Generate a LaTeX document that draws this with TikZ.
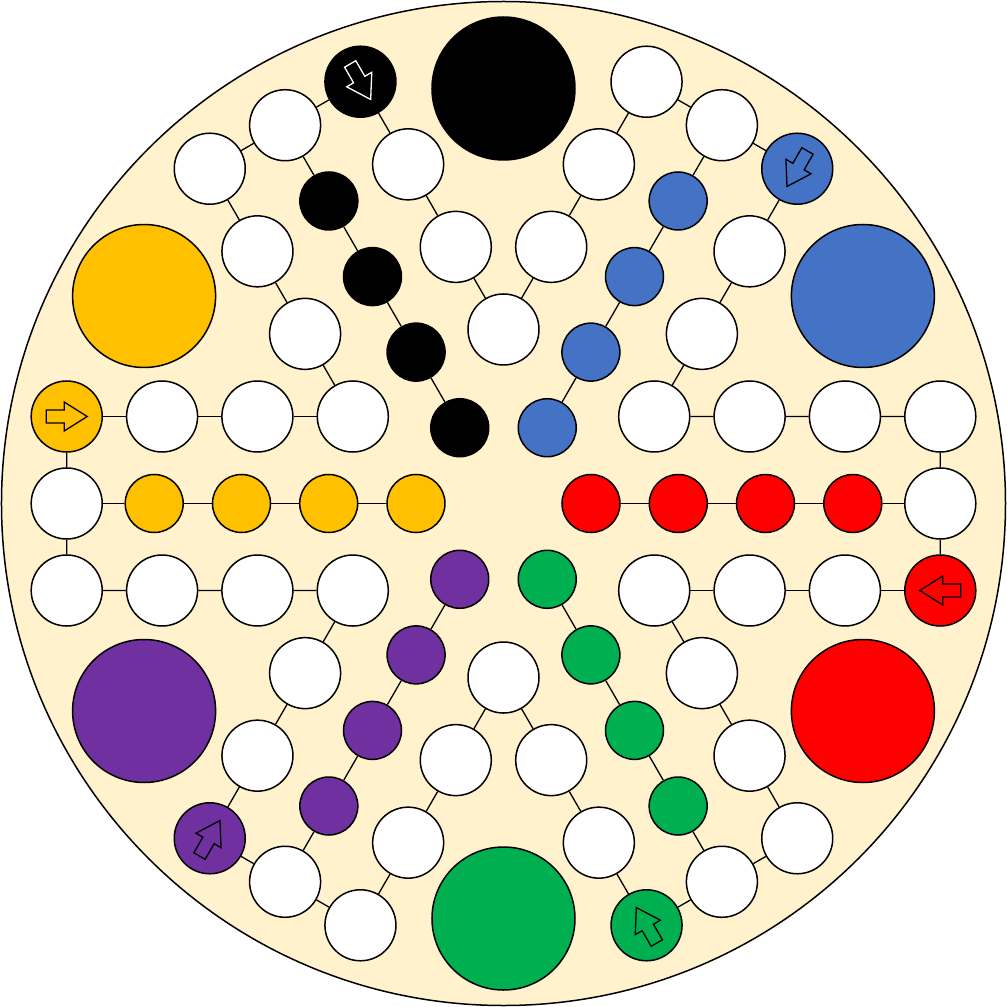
\documentclass[tikz,border=0pt]{standalone}
\definecolor{bg}{HTML}{FFF2CC}
\definecolor{cy}{HTML}{FFC000}
\definecolor{cb}{HTML}{4472C4}
\definecolor{cr}{HTML}{FF0000}
\definecolor{cg}{HTML}{00B050}
\definecolor{cp}{HTML}{7030A0}
\begin{document}
\begin{tikzpicture}[x=1pt,y=1pt,
  board/.style={draw=black,line width=1.5pt,fill=bg},
  track/.style={circle,draw=black,line width=1.5pt,fill=white,minimum size=71pt,inner sep=0pt},
  homespot/.style={circle,draw=black,line width=1.5pt,minimum size=58pt,inner sep=0pt},
  house/.style={circle,draw=black,line width=1.5pt,minimum size=143pt,inner sep=0pt},
  link/.style={draw=black,line width=1.3pt},
  startarrow/.style={line width=1.3pt,line join=miter}]
\useasboundingbox (-503.5,-503.5) rectangle (503.5,503.5);
\node[board,circle,minimum size=1004pt,inner sep=0pt] (boardc) at (0,0) {};
\foreach \k/\c/\ac in {0/cy/black,1/black/white,2/cb/black,3/cr/black,4/cg/black,5/cp/black}{
  \begin{scope}[rotate=-60*\k]
    \node[track,fill=\c] (s\k) at (-436.8,87) {};
    \node[track] (ta\k) at (-341.4,87) {};
    \node[track] (tb\k) at (-246.1,87) {};
    \node[track] (c\k) at (-150.7,87) {};
    \node[track] (e\k) at (-436.8,0) {};
    \node[track] (ba\k) at (-436.8,-87) {};
    \node[track] (bb\k) at (-341.4,-87) {};
    \node[track] (bc\k) at (-246.1,-87) {};
    \node[homespot,fill=\c] (ha\k) at (-349.3,0) {};
    \node[homespot,fill=\c] (hb\k) at (-262.0,0) {};
    \node[homespot,fill=\c] (hc\k) at (-174.8,0) {};
    \node[homespot,fill=\c] (hd\k) at (-87.5,0) {};
    \node[house,fill=\c] (H\k) at (150:415) {};
    \begin{scope}[shift={(-436.8,87)}]
      \draw[startarrow,draw=\ac,fill=\c] (-20.5,6.5) -- (-2.5,6.5) -- (-2.5,14.5) -- (20.5,0) -- (-2.5,-14.5) -- (-2.5,-6.5) -- (-20.5,-6.5) -- cycle;
    \end{scope}
  \end{scope}
}
\foreach \k in {0,...,5}{
  \pgfmathtruncatemacro\p{mod(\k+5,6)}
  \draw[link] (s\k) -- (ta\k) -- (tb\k) -- (c\k);
  \draw[link] (s\k) -- (e\k) -- (ba\k) -- (bb\k) -- (bc\k) -- (c\p);
  \draw[link] (e\k) -- (ha\k) -- (hb\k) -- (hc\k) -- (hd\k);
}
\end{tikzpicture}
\end{document}
